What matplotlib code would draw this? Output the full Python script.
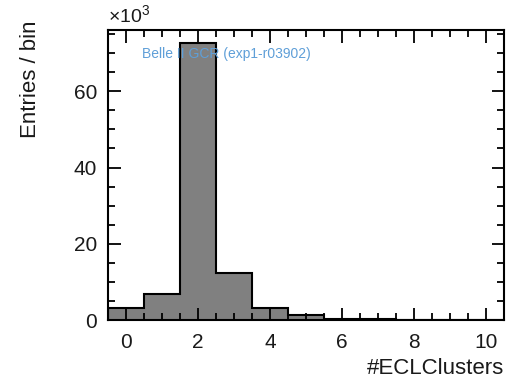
import matplotlib
matplotlib.use("Agg")
import matplotlib.pyplot as plt
import numpy as np
from matplotlib.ticker import MultipleLocator

plt.rcParams['font.family'] = ['Liberation Sans', 'DejaVu Sans']
plt.rcParams['mathtext.fontset'] = 'custom'
plt.rcParams['mathtext.rm'] = 'Liberation Sans'

# Number of ECL clusters per event (bin centres) and entries, in thousands
n_clusters = [0, 1, 2, 3, 4, 5, 6, 7, 8, 9, 10]
entries_k = [3.2, 6.9, 72.6, 12.3, 3.2, 1.3, 0.4, 0.3, 0.0, 0.0, 0.0]

edges = np.arange(-0.5, 11.0, 1.0)
text_col = '#1a1a1a'

fig = plt.figure(figsize=(5.17, 3.82), dpi=100)
ax = fig.add_axes([0.209, 0.162, 0.766, 0.759])

ax.stairs(entries_k, edges, fill=True, facecolor='#808080', edgecolor='none')
ax.stairs(entries_k, edges, fill=False, color='black', linewidth=1.5, baseline=0)

ax.set_xlim(-0.5, 10.5)
ax.set_ylim(0, 76)

ax.xaxis.set_major_locator(MultipleLocator(2))
ax.xaxis.set_minor_locator(MultipleLocator(0.5))
ax.yaxis.set_major_locator(MultipleLocator(20))
ax.yaxis.set_minor_locator(MultipleLocator(5))
ax.tick_params(which='both', direction='in', top=True, right=True,
               labelsize=15, width=1.3, labelcolor=text_col)
ax.tick_params(axis='x', which='major', pad=9)
ax.tick_params(axis='y', which='major', pad=8)
ax.tick_params(which='major', length=9)
ax.tick_params(which='minor', length=5)
for s in ax.spines.values():
    s.set_linewidth(1.5)

ax.set_xlabel('#ECLClusters', fontsize=16, color=text_col, ha='right', va='center')
ax.xaxis.set_label_coords(1.0, -0.166)
ax.set_ylabel('Entries / bin', fontsize=16, color=text_col, ha='right', va='center')
ax.yaxis.set_label_coords(-0.196, 1.034)
ax.text(0.0, 1.01, '×10$^3$', transform=ax.transAxes, fontsize=14,
        color=text_col, ha='left', va='bottom')
ax.text(0.086, 0.917, 'Belle II GCR (exp1-r03902)', transform=ax.transAxes,
        fontsize=10, color='#5f9fd8', ha='left', va='center')

fig.savefig('out.png', dpi=100)
